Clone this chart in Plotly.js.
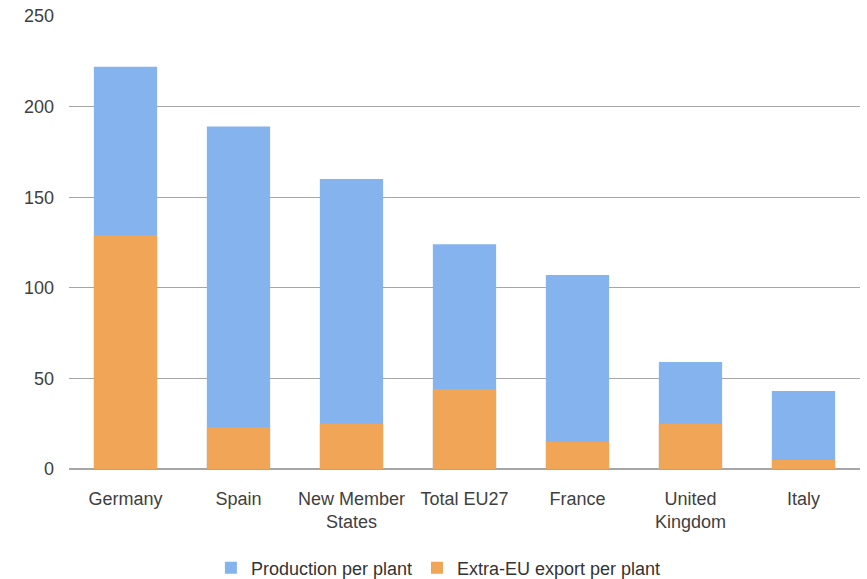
<!DOCTYPE html>
<html>
<head>
<meta charset="utf-8">
<script src="https://cdn.plot.ly/plotly-3.0.1.min.js"></script>
<style>html,body{margin:0;padding:0;background:#fff;}#chart{width:867px;height:579px;}</style>
</head>
<body>
<div id="chart"></div>
<script>
var categories = ["Germany", "Spain", "New Member<br>States", "Total EU27", "France", "United<br>Kingdom", "Italy"];
var productionPerPlant = [222, 189, 160, 124, 107, 59, 43];
var exportPerPlant = [129, 23, 25, 44, 15, 25, 5];
var yTicks = [0, 50, 100, 150, 200, 250];

var traces = [
  {
    type: "bar",
    name: "Production per plant",
    x: categories,
    y: productionPerPlant,
    marker: {color: "#85b3ee"}
  },
  {
    type: "bar",
    name: "Extra-EU export per plant",
    x: categories,
    y: exportPerPlant,
    marker: {color: "#f0a656"}
  }
];

var layout = {
  width: 867,
  height: 579,
  barmode: "overlay",
  bargap: 0.44,
  paper_bgcolor: "#ffffff",
  plot_bgcolor: "#ffffff",
  margin: {l: 69, r: 7, t: 16, b: 110},
  font: {family: "Liberation Sans, Arial, sans-serif", size: 18, color: "#404040"},
  showlegend: true,
  legend: {
    orientation: "h",
    x: 0.467, xanchor: "center",
    xref: "paper",
    yref: "container",
    y: 0.019, yanchor: "middle",
    font: {size: 18, color: "#333"},
    itemwidth: 30,
    traceorder: "normal"
  },
  xaxis: {
    type: "category",
    automargin: false,
    showgrid: false,
    showline: false,
    ticks: "",
    ticklabelstandoff: 17,
    tickfont: {size: 18, color: "#404040"}
  },
  yaxis: {
    range: [0, 250],
    automargin: false,
    tickvals: yTicks,
    showgrid: true,
    gridcolor: "#a6a6a6",
    gridwidth: 1,
    zeroline: true,
    zerolinecolor: "#a6a6a6",
    zerolinewidth: 1.5,
    showline: false,
    ticks: "",
    ticklabelstandoff: 14,
    tickfont: {size: 18, color: "#404040"}
  }
};

Plotly.newPlot("chart", traces, layout, {displayModeBar: false, staticPlot: true});
</script>
</body>
</html>
